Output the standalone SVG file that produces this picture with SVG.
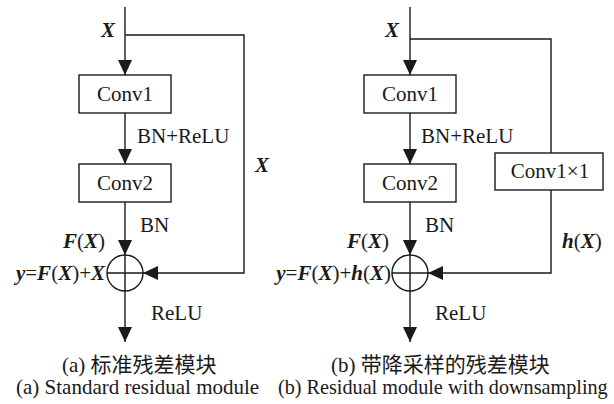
<svg xmlns="http://www.w3.org/2000/svg" width="614" height="404" viewBox="0 0 614 404">
<defs>
<style>
text{font-family:"Liberation Serif","Times New Roman","Noto Sans CJK SC",serif;font-size:21px;fill:#1a1a1a}
.bi{font-weight:bold;font-style:italic}
.box{fill:#fff;stroke:#1a1a1a;stroke-width:1.4}
.ln{fill:none;stroke:#1a1a1a;stroke-width:1.4}
.arr{fill:none;stroke:#1a1a1a;stroke-width:1.4;marker-end:url(#ah)}
</style>
<marker id="ah" markerWidth="15" markerHeight="14" refX="15" refY="7" orient="auto" markerUnits="userSpaceOnUse">
<path d="M0,0 L15,7 L0,14 z" fill="#1a1a1a"/>
</marker>
</defs>
<rect width="614" height="404" fill="#fff"/>
<g id="connectors">
<line class="arr" x1="125" y1="7" x2="125" y2="75"/>
<polyline class="arr" points="125,35 244,35 244,273 143,273"/>
<line class="arr" x1="125" y1="113" x2="125" y2="164"/>
<line class="arr" x1="125" y1="202" x2="125" y2="255"/>
<line class="arr" x1="125" y1="291" x2="125" y2="342"/>
<line class="arr" x1="410" y1="7" x2="410" y2="75"/>
<polyline class="ln" points="410,39 551,39 551,153"/>
<polyline class="arr" points="551,190 551,273 428,273"/>
<line class="arr" x1="410" y1="113" x2="410" y2="164"/>
<line class="arr" x1="410" y1="202" x2="410" y2="255"/>
<line class="arr" x1="410" y1="291" x2="410" y2="342"/>
</g>
<g id="a_conv1"><rect class="box" x="79" y="75" width="92" height="38"/><text x="125" y="101" text-anchor="middle">Conv1</text></g>
<g id="a_conv2"><rect class="box" x="79" y="164" width="92" height="38"/><text x="125" y="190" text-anchor="middle">Conv2</text></g>
<g id="a_sum"><circle class="box" cx="125" cy="273" r="18"/><path class="ln" d="M107,273H143M125,255V291"/></g>
<g id="b_conv1"><rect class="box" x="364" y="75" width="92" height="38"/><text x="410" y="101" text-anchor="middle">Conv1</text></g>
<g id="b_conv2"><rect class="box" x="364" y="164" width="92" height="38"/><text x="410" y="190" text-anchor="middle">Conv2</text></g>
<g id="b_conv1x1"><rect class="box" x="495" y="153" width="108" height="37"/><text x="550" y="178" text-anchor="middle">Conv1×1</text></g>
<g id="b_sum"><circle class="box" cx="410" cy="273" r="18"/><path class="ln" d="M392,273H428M410,255V291"/></g>
<g id="labels">
<text x="101" y="37" class="bi">X</text>
<text x="255" y="172" class="bi">X</text>
<text x="137" y="143">BN+ReLU</text>
<text x="140" y="232">BN</text>
<text x="105" y="248" text-anchor="end"><tspan class="bi">F</tspan>(<tspan class="bi">X</tspan>)</text>
<text x="105" y="280" text-anchor="end"><tspan class="bi">y</tspan>=<tspan class="bi">F</tspan>(<tspan class="bi">X</tspan>)+<tspan class="bi">X</tspan></text>
<text x="151" y="320">ReLU</text>
<text x="385" y="37" class="bi">X</text>
<text x="421" y="143">BN+ReLU</text>
<text x="425" y="232">BN</text>
<text x="389" y="248" text-anchor="end"><tspan class="bi">F</tspan>(<tspan class="bi">X</tspan>)</text>
<text x="562" y="248"><tspan class="bi">h</tspan>(<tspan class="bi">X</tspan>)</text>
<text x="391" y="280" text-anchor="end"><tspan class="bi">y</tspan>=<tspan class="bi">F</tspan>(<tspan class="bi">X</tspan>)+<tspan class="bi">h</tspan>(<tspan class="bi">X</tspan>)</text>
<text x="435" y="320">ReLU</text>
<text x="62" y="372">(a) 标准残差模块</text>
<text x="331" y="372">(b) 带降采样的残差模块</text>
<text x="16" y="394">(a) Standard residual module</text>
<text x="278" y="394" style="font-size:20.2px">(b) Residual module with downsampling</text>
</g>
</svg>
